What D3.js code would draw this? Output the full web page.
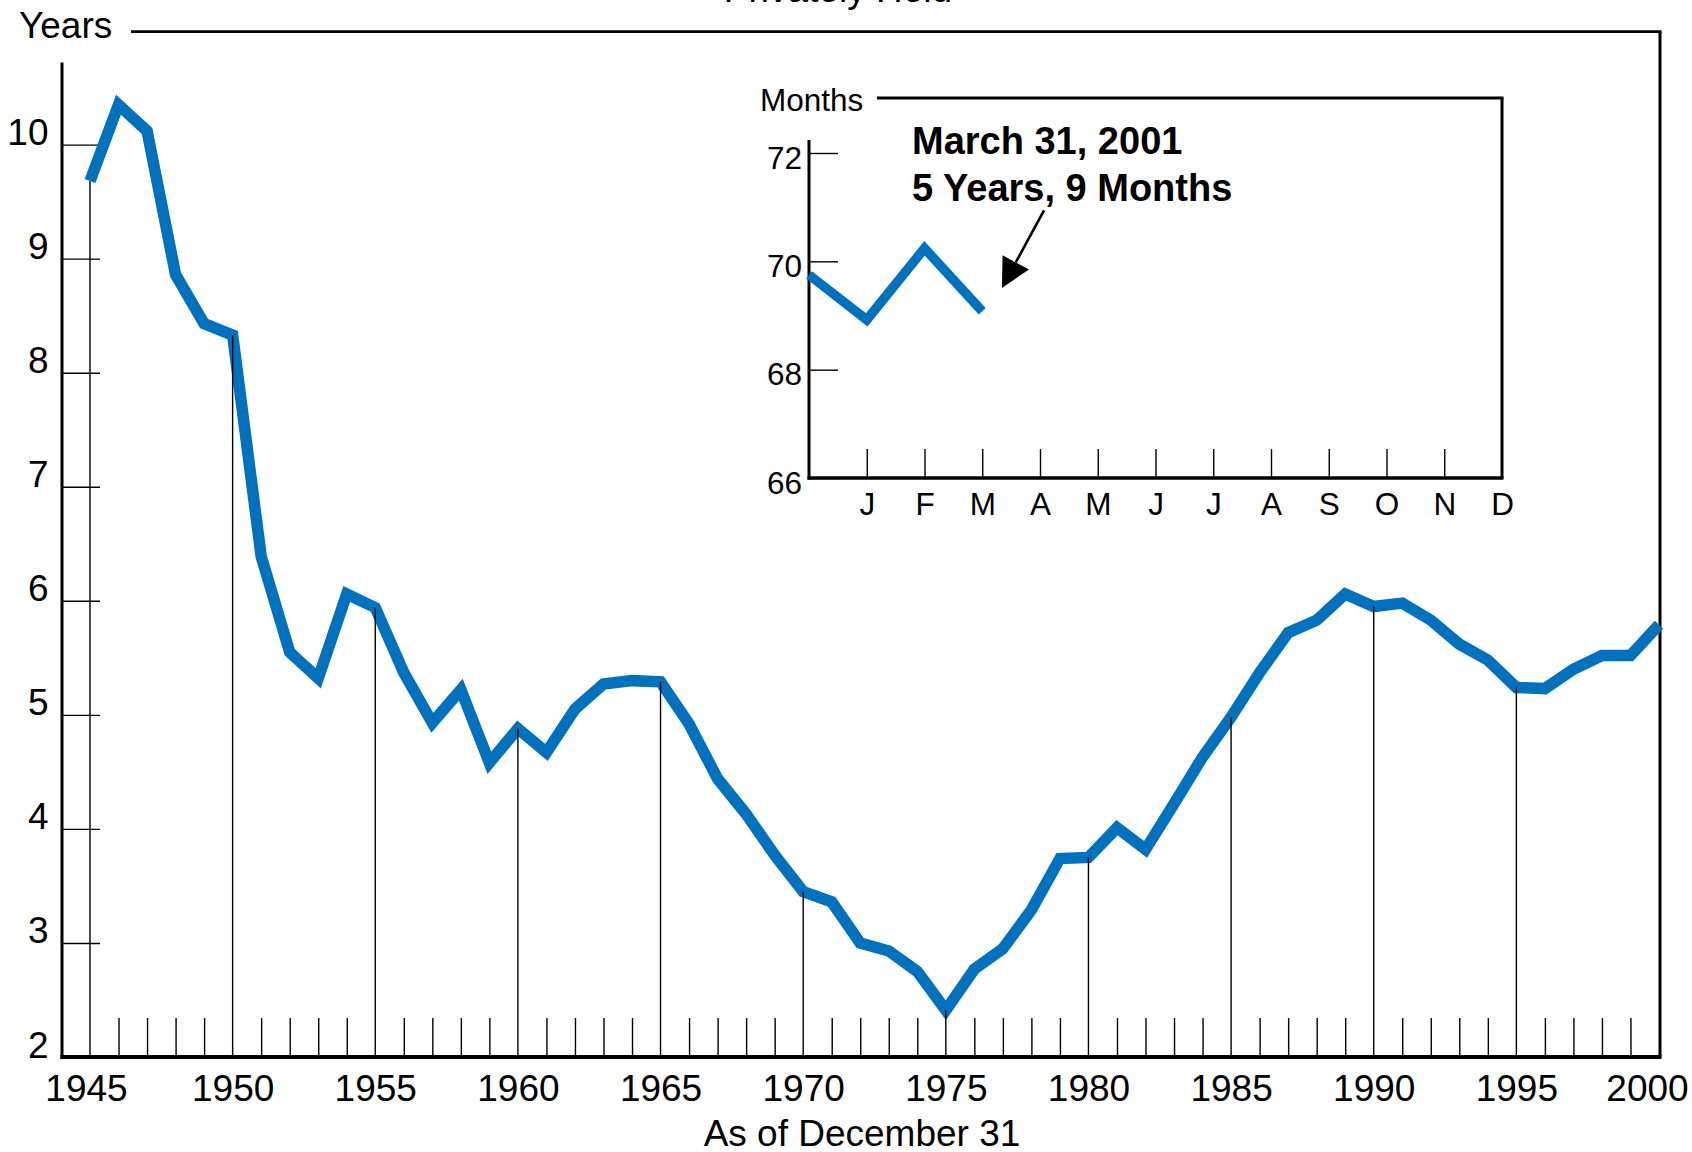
<!DOCTYPE html>
<html>
<head>
<meta charset="utf-8">
<script src="https://cdn.jsdelivr.net/npm/d3@7"></script>
<style>
  html, body { margin: 0; padding: 0; background: #fff; }
  svg { display: block; font-family: "Liberation Sans", Arial, Helvetica, sans-serif; }
</style>
</head>
<body>
<svg id="chart" width="1692" height="1152"></svg>
<script>
// ---------------- data ----------------
const years = d3.range(1945, 2001);
const avgLengthYears = [
  9.68, 10.35, 10.12, 8.86, 8.43, 8.33, 6.39, 5.55, 5.32, 6.06,
  5.94, 5.37, 4.93, 5.22, 4.58, 4.88, 4.67, 5.05, 5.27, 5.30,
  5.29, 4.92, 4.44, 4.13, 3.77, 3.45, 3.36, 3.00, 2.93, 2.75,
  2.41, 2.77, 2.95, 3.29, 3.74, 3.75, 4.01, 3.82, 4.22, 4.63,
  4.98, 5.37, 5.72, 5.83, 6.06, 5.95, 5.98, 5.83, 5.62, 5.48,
  5.24, 5.23, 5.40, 5.52, 5.52, 5.79
];
const yTicks = [2, 3, 4, 5, 6, 7, 8, 9, 10];
const xLabelYears = [1945, 1950, 1955, 1960, 1965, 1970, 1975, 1980, 1985, 1990, 1995, 2000];

const monthLabels = ["J", "F", "M", "A", "M", "J", "J", "A", "S", "O", "N", "D"];
const insetIndex = [0, 1, 2, 3];             // Dec 2000, Jan, Feb, Mar 2001
const insetMonths = [69.75, 68.92, 70.24, 69.08];
const insetYTicks = [66, 68, 70, 72];

const titleText = "Privately Held";
const yUnit = "Years";
const xTitle = "As of December 31";
const insetUnit = "Months";
const noteLines = ["March 31, 2001", "5 Years, 9 Months"];

// ---------------- setup ----------------
const BLUE = "#0071BC";
const svg = d3.select("#chart");
svg.append("rect").attr("width", 1692).attr("height", 1152).attr("fill", "#fff");

const x = d3.scaleLinear().domain([1945, 2000]).range([90, 1659]);
const y = d3.scaleLinear().domain([2, 10]).range([1057, 144.6]);

const AX = 62;       // main y-axis x
const BASE = y(2);   // baseline
const RIGHT = x(2000) + 1;
const TOP = 31.7;

// title (cropped at the top edge, as in the source figure)
svg.append("text").attr("x", 838).attr("y", 2).attr("text-anchor", "middle")
  .attr("font-size", 37).text(titleText);

// frame: top line + right border
svg.append("line").attr("x1", 131).attr("x2", RIGHT + 1.5).attr("y1", TOP).attr("y2", TOP)
  .attr("stroke", "#000").attr("stroke-width", 2.8);
svg.append("line").attr("x1", RIGHT).attr("x2", RIGHT).attr("y1", TOP).attr("y2", BASE)
  .attr("stroke", "#000").attr("stroke-width", 3);
svg.append("text").attr("x", 19).attr("y", 37.5).attr("font-size", 37).text(yUnit);

// y axis
const yAxis = d3.axisLeft(y).tickValues(yTicks).tickSizeInner(-38).tickSizeOuter(0).tickPadding(13.5)
  .tickFormat(d3.format("d"));
const gy = svg.append("g").attr("transform", `translate(${AX},0)`).call(yAxis);
gy.select(".domain").remove();
gy.selectAll(".tick line").attr("stroke", "#000").attr("stroke-width", 1.4);
gy.selectAll(".tick text").attr("dy", 0).attr("font-size", 37).attr("fill", "#000")
  .attr("font-family", "Liberation Sans, Arial, sans-serif");
svg.append("line").attr("x1", AX).attr("x2", AX).attr("y1", y(10.72)).attr("y2", BASE + 2)
  .attr("stroke", "#000").attr("stroke-width", 3);

// x axis: minor year ticks
const minorYears = years.filter(d => d % 5 !== 0);
const xMinor = d3.axisBottom(x).tickValues(minorYears).tickSizeInner(-39).tickSizeOuter(0).tickFormat("");
const gxm = svg.append("g").attr("transform", `translate(0,${BASE})`).call(xMinor);
gxm.select(".domain").remove();
gxm.selectAll(".tick line").attr("stroke", "#000").attr("stroke-width", 1.4);

// x axis labels
const xLab = d3.axisBottom(x).tickValues(xLabelYears).tickSize(0).tickPadding(44).tickFormat(d3.format("d"));
const gxl = svg.append("g").attr("transform", `translate(0,${BASE})`).call(xLab);
gxl.select(".domain").remove();
gxl.selectAll(".tick text").attr("dy", 0).attr("font-size", 37).attr("fill", "#000")
  .attr("font-family", "Liberation Sans, Arial, sans-serif")
  .attr("dx", d => d === 2000 ? -12 : (d === 1945 ? -4 : 0));

svg.append("text").attr("x", 862).attr("y", 1146).attr("text-anchor", "middle")
  .attr("font-size", 37).text(xTitle);

// main data line
const series = years.map((yr, i) => ({ yr, v: avgLengthYears[i] }));
const line = d3.line().x(d => x(d.yr)).y(d => y(d.v));
svg.append("path").datum(series).attr("d", line).attr("fill", "none")
  .attr("stroke", BLUE).attr("stroke-width", 11.5)
  .attr("stroke-linejoin", "miter").attr("stroke-miterlimit", 10).attr("stroke-linecap", "butt");

// drop lines every 5 years (drawn over the data line)
svg.append("g").selectAll("line").data(series.filter(d => d.yr % 5 === 0 && d.yr < 2000))
  .join("line")
  .attr("x1", d => x(d.yr)).attr("x2", d => x(d.yr))
  .attr("y1", BASE).attr("y2", d => y(d.v))
  .attr("stroke", "#000").attr("stroke-width", 1.4);

// baseline
svg.append("line").attr("x1", AX - 1.5).attr("x2", RIGHT + 1.5).attr("y1", BASE).attr("y2", BASE)
  .attr("stroke", "#000").attr("stroke-width", 4);

// ---------------- inset ----------------
const xi = d3.scaleLinear().domain([0, 12]).range([809, 1502]);
const yi = d3.scaleLinear().domain([66, 72]).range([478, 153]);
const IB = yi(66);
const IR = xi(12);
const ITOP = 98;

svg.append("text").attr("x", 760).attr("y", 111).attr("font-size", 31.5).text(insetUnit);
svg.append("line").attr("x1", 877).attr("x2", IR + 1.5).attr("y1", ITOP).attr("y2", ITOP)
  .attr("stroke", "#000").attr("stroke-width", 3);
svg.append("line").attr("x1", IR).attr("x2", IR).attr("y1", ITOP).attr("y2", IB)
  .attr("stroke", "#000").attr("stroke-width", 3);

const yiAxis = d3.axisLeft(yi).tickValues(insetYTicks).tickSizeInner(-29).tickSizeOuter(0).tickPadding(7)
  .tickFormat(d3.format("d"));
const giy = svg.append("g").attr("transform", `translate(${xi(0)},0)`).call(yiAxis);
giy.select(".domain").remove();
giy.selectAll(".tick line").attr("stroke", "#000").attr("stroke-width", 1.4);
giy.selectAll(".tick text").attr("dy", 15).attr("font-size", 31.5).attr("fill", "#000")
  .attr("font-family", "Liberation Sans, Arial, sans-serif");
svg.append("line").attr("x1", xi(0)).attr("x2", xi(0)).attr("y1", 140).attr("y2", IB + 1.5)
  .attr("stroke", "#000").attr("stroke-width", 3);

const monthIdx = d3.range(1, 13);
const xiTicks = d3.axisBottom(xi).tickValues(monthIdx.slice(0, 11)).tickSizeInner(-29).tickSizeOuter(0).tickFormat("");
const gim = svg.append("g").attr("transform", `translate(0,${IB})`).call(xiTicks);
gim.select(".domain").remove();
gim.selectAll(".tick line").attr("stroke", "#000").attr("stroke-width", 1.4);

const xiLab = d3.axisBottom(xi).tickValues(monthIdx).tickSize(0).tickPadding(37)
  .tickFormat(d => monthLabels[d - 1]);
const gil = svg.append("g").attr("transform", `translate(0,${IB})`).call(xiLab);
gil.select(".domain").remove();
gil.selectAll(".tick text").attr("dy", 0).attr("font-size", 31.5).attr("fill", "#000")
  .attr("font-family", "Liberation Sans, Arial, sans-serif");

svg.append("line").attr("x1", xi(0) - 1.5).attr("x2", IR + 1.5).attr("y1", IB).attr("y2", IB)
  .attr("stroke", "#000").attr("stroke-width", 3.3);

const iseries = insetIndex.map((m, i) => ({ m, v: insetMonths[i] }));
const iline = d3.line().x(d => xi(d.m)).y(d => yi(d.v));
svg.append("path").datum(iseries).attr("d", iline).attr("fill", "none")
  .attr("stroke", BLUE).attr("stroke-width", 9.5)
  .attr("stroke-linejoin", "miter").attr("stroke-linecap", "butt");

// annotation
const note = svg.append("text").attr("x", 912).attr("font-size", 38).attr("font-weight", "bold");
note.selectAll("tspan").data(noteLines).join("tspan")
  .attr("x", 912).attr("y", (d, i) => 154 + i * 46.5).text(d => d);

// arrow (in inset data coordinates)
const arrowFrom = { m: 4.07, v: 70.94 };
const arrowTo = { m: 3.34, v: 69.51 };
const ax1 = xi(arrowFrom.m), ay1 = yi(arrowFrom.v), ax2 = xi(arrowTo.m), ay2 = yi(arrowTo.v);
const ang = Math.atan2(ay2 - ay1, ax2 - ax1);
const headL = 29, headW = 15;
const bx = ax2 - headL * Math.cos(ang), by = ay2 - headL * Math.sin(ang);
svg.append("line").attr("x1", ax1).attr("y1", ay1).attr("x2", bx).attr("y2", by)
  .attr("stroke", "#000").attr("stroke-width", 2.6);
svg.append("path")
  .attr("d", d3.line()([
    [ax2, ay2],
    [bx + headW * Math.sin(ang), by - headW * Math.cos(ang)],
    [bx - headW * Math.sin(ang), by + headW * Math.cos(ang)]
  ]) + "Z")
  .attr("fill", "#000");
</script>
</body>
</html>
